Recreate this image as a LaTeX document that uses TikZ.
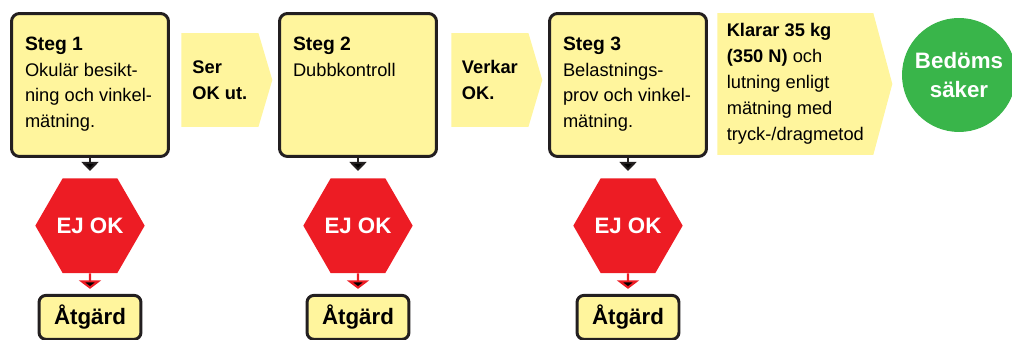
\documentclass[tikz,border=0pt]{standalone}
\usepackage{fontspec}
\setmainfont{Liberation Sans}
\usepackage{tikz}
\usetikzlibrary{positioning, shapes.geometric, shapes.symbols, arrows.meta}
\definecolor{ljusgul}{RGB}{255,245,157}
\definecolor{stoppröd}{RGB}{237,28,36}
\definecolor{okgron}{RGB}{57,181,74}
\definecolor{kant}{RGB}{35,31,32}
\newcommand{\stegtext}[2]{\parbox[c][1.9cm][t]{2.6cm}{\raggedright{\bfseries\fontsize{11}{14.5}\selectfont #1}\\#2}}
\tikzset{
x=0.02cm, y=-0.02cm, % one unit is one pixel of the sketch, y downwards
node distance=0.4cm, % gap between a step and its stop sign
stegbox/.style={draw=kant, line width=1.7pt, rounded corners=0.16cm, fill=ljusgul, minimum width=3.14cm, minimum height=2.86cm, inner sep=0pt, font=\fontsize{10.4}{14.5}\selectfont}, % the three steps
pil/.style={signal, signal to=east, signal from=nowhere, signal pointer angle=147, fill=ljusgul, inner sep=0pt, align=left, anchor=west, minimum width=1.82cm, minimum height=1.88cm, font=\bfseries\fontsize{10.4}{14.5}\selectfont}, % yellow arrows between steps
stopp/.style={regular polygon, regular polygon sides=6, minimum size=2.1cm, inner sep=0pt, fill=stoppröd, text=white, font=\bfseries\fontsize{12.7}{15}\selectfont}, % EJ OK hexagon
atgard/.style={draw=kant, line width=1.7pt, rounded corners=0.14cm, fill=ljusgul, minimum width=2.04cm, minimum height=0.88cm, inner sep=0pt, font=\bfseries\fontsize{12.7}{15}\selectfont}, % action box
klar/.style={circle, fill=okgron, minimum size=2.28cm, inner sep=0pt, text=white, align=center, font=\bfseries\fontsize{12.7}{16}\selectfont}, % final verdict
nedpil/.style={-{Triangle[width=0.34cm,length=0.18cm]}, line width=1.1pt, draw=kant, shorten >=0.14cm}, % step to stop sign
rodpil/.style={-{Triangle[width=0.44cm,length=0.17cm]}, line width=1.2pt, draw=stoppröd, shorten >=0.1cm}, % stop sign to action
}
\begin{document}
\begin{tikzpicture}
                \useasboundingbox (0,0) rectangle (1012,340);
                \node[stegbox] (steg1) at (90,85) {\stegtext{Steg 1}{Okulär besikt-\\ning och vinkel-\\mätning.}};
                \node[pil] (pil1) at (181,80) {Ser\\OK ut.};
                \node[stegbox] (steg2) at (358,85) {\stegtext{Steg 2}{Dubbkontroll}};
                \node[pil] (pil2) at (451,80) {Verkar\\OK.};
                \node[stegbox] (steg3) at (628,85) {\stegtext{Steg 3}{Belastnings-\\prov och vinkel-\\mätning.}};
                \node[pil, signal pointer angle=150, minimum width=3.5cm, minimum height=2.84cm, font=\fontsize{10.4}{14.8}\selectfont] (pil3) at (717,84)
                    {\textbf{Klarar 35 kg}\\\textbf{(350 N)} och\\lutning enligt\\mätning med\\tryck-/dragmetod};
                \node[klar] (saker) at (959,75) {Bedöms\\säker};
                \node[stopp, below=of steg1] (stopp1) {EJ OK};
                \node[stopp, below=of steg2] (stopp2) {EJ OK};
                \node[stopp, below=of steg3] (stopp3) {EJ OK};
                \node[atgard, below=0.41cm of stopp1] (atgard1) {Åtgärd};
                \node[atgard, below=0.41cm of stopp2] (atgard2) {Åtgärd};
                \node[atgard, below=0.41cm of stopp3] (atgard3) {Åtgärd};
                \draw[nedpil]
                    (steg1) edge (stopp1)
                    (steg2) edge (stopp2)
                    (steg3) edge (stopp3)
                    ;
                \draw[rodpil]
                    (stopp1) edge (atgard1)
                    (stopp2) edge (atgard2)
                    (stopp3) edge (atgard3)
                    ;
            \end{tikzpicture}
\end{document}
